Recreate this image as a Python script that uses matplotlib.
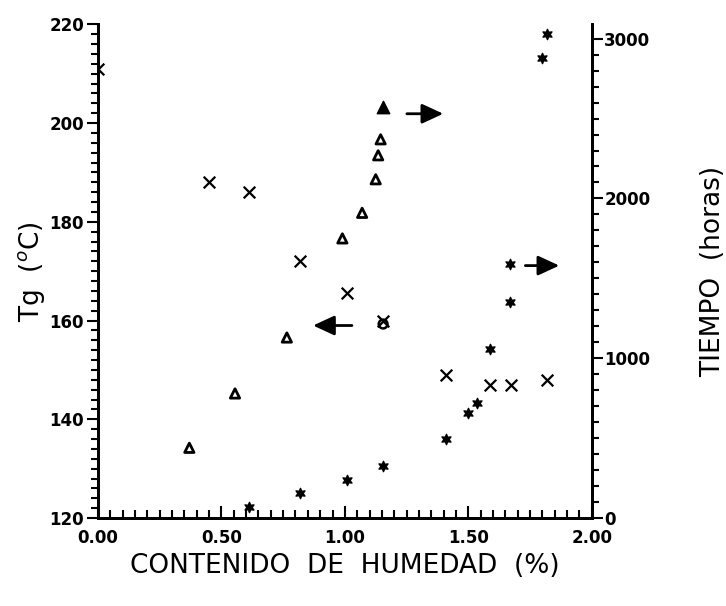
import numpy as np
import matplotlib.pyplot as plt
from matplotlib.ticker import MultipleLocator, FixedLocator

# Tg (left axis) vs humidity content
x_tg = [0.00, 0.45, 0.61, 0.82, 1.01, 1.155, 1.41, 1.59, 1.675, 1.82]
tg = [211, 188, 186, 172, 165.5, 160, 149, 147, 147, 148]

# extra open marker hidden under the X at 1.15
x_tg_o = [1.155]
tg_o = [159.3]

# time (right axis), triangles
x_tri = [0.37, 0.555, 0.765, 0.99, 1.07, 1.125, 1.135, 1.145, 1.155]
t_tri = [440, 780, 1130, 1750, 1910, 2120, 2270, 2370, 2575]

# time (right axis), stars
x_star = [0.61, 0.82, 1.01, 1.155, 1.41, 1.50, 1.535, 1.59, 1.67, 1.67, 1.80, 1.82]
t_star = [70, 155, 240, 325, 495, 660, 720, 1060, 1350, 1590, 2880, 3030]

x_ticks = [0, 0.5, 1.0, 1.5, 2.0]
x_ticklabels = ['0.00', '0.50', '1.00', '1.50', '2.00']
t_ticks = [0, 1000, 2000, 3000]
t_ticklabels = ['0', '1000', '2000', '3000']

plt.rcParams['font.family'] = ['DejaVu Sans']

fig = plt.figure(figsize=(7.26, 6.06), dpi=100)
ax = fig.add_axes([0.135, 0.145, 0.68, 0.815])
ax2 = ax.twinx()

ax.set_xlim(0, 2.0)
ax.set_ylim(120, 220)
ax2.set_ylim(0, 3090)

ax.scatter(x_tg, tg, marker='x', s=70, color='black', linewidths=1.6, zorder=3)
ax.scatter(x_tg_o, tg_o, marker='o', s=40, facecolors='none', edgecolors='black', linewidths=1.8, zorder=3)
ax2.scatter(x_tri[:-1], t_tri[:-1], marker='^', s=45, facecolors='none', edgecolors='black', linewidths=2)
ax2.scatter(x_tri[-1:], t_tri[-1:], marker='^', s=80, color='black')
ax2.scatter(x_star, t_star, marker=(6, 1, 0), s=55, color='black')

# arrows showing which axis belongs to each series
arrow = dict(arrowstyle='-|>,head_length=1.3,head_width=0.6', color='black', lw=2)
ax.annotate('', xy=(0.86, 159), xytext=(1.04, 159), arrowprops=arrow)
ax2.annotate('', xy=(1.41, 2530), xytext=(1.24, 2530), arrowprops=arrow)
ax2.annotate('', xy=(1.88, 1580), xytext=(1.72, 1580), arrowprops=arrow)

for a in (ax, ax2):
    for s in a.spines.values():
        s.set_linewidth(2)
ax.spines['top'].set_visible(False)
ax2.spines['top'].set_visible(False)

ax.xaxis.set_major_locator(FixedLocator(x_ticks))
ax.xaxis.set_minor_locator(MultipleLocator(0.05))
ax.yaxis.set_major_locator(MultipleLocator(20))
ax.yaxis.set_minor_locator(MultipleLocator(2))
ax2.yaxis.set_major_locator(FixedLocator(t_ticks))
ax2.yaxis.set_minor_locator(MultipleLocator(100))

ax.tick_params(axis='x', which='both', direction='in', width=1.5)
ax.tick_params(axis='x', which='major', length=9, pad=8)
ax.tick_params(axis='x', which='minor', length=6)
ax.tick_params(axis='y', which='both', direction='out', width=1.5)
ax.tick_params(axis='y', which='major', length=8, pad=2)
ax.tick_params(axis='y', which='minor', length=5)
ax2.tick_params(axis='y', which='both', direction='out', width=1.5)
ax2.tick_params(axis='y', which='major', length=8, pad=1)
ax2.tick_params(axis='y', which='minor', length=5)

ax.set_xticklabels(x_ticklabels)
ax2.set_yticklabels(t_ticklabels)
for lab in ax.get_xticklabels() + ax.get_yticklabels() + ax2.get_yticklabels():
    lab.set_fontweight('bold')
    lab.set_fontsize(12)

ax.set_xlabel('CONTENIDO  DE  HUMEDAD  (%)', fontsize=19, labelpad=4)
ax.set_ylabel('Tg  ($^{o}$C)', fontsize=19, labelpad=2)
ax2.set_ylabel('TIEMPO  (horas)', fontsize=19, labelpad=36)

fig.savefig('out.png', dpi=100)
